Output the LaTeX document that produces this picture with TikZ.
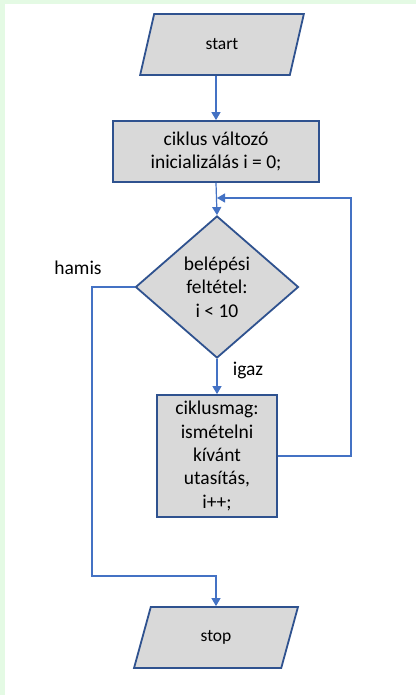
\documentclass[tikz,border=0pt]{standalone}
\usepackage{fontspec}
\setmainfont{Carlito}
\usetikzlibrary{shapes.geometric,arrows.meta}

\definecolor{boxfill}{HTML}{D9D9D9}
\definecolor{boxline}{HTML}{2F528F}
\definecolor{flowline}{HTML}{4472C4}
\definecolor{pagegreen}{HTML}{E4FAE4}

\tikzset{
  box/.style={draw=boxline,fill=boxfill,line width=1.8bp,inner sep=2bp,align=center,
    font=\fontsize{19.5bp}{23.3bp}\selectfont},
  iobox/.style={box,shape=trapezium,trapezium left angle=76,trapezium right angle=104,
    trapezium stretches=true,minimum width=164bp,minimum height=61bp,
    font=\fontsize{17.5bp}{21bp}\selectfont},
  decision/.style={box,shape=diamond,inner sep=0pt,minimum width=163bp,minimum height=142bp},
  flow/.style={draw=flowline,line width=1.2bp,-{Triangle[width=9bp,length=8bp]}},
  lbl/.style={font=\fontsize{19.5bp}{23.3bp}\selectfont}
}

\begin{document}
\begin{tikzpicture}[x=1bp,y=-1bp]
  \fill[pagegreen] (0,0) rectangle (416,695);
  \fill[white] (5,4) rectangle (416,695);

  \node[iobox] (start) at (222,44.5) {start};
  \node[box,minimum width=206bp,minimum height=61bp] (init) at (216,151.5) {ciklus változó\\inicializálás i = 0;};
  \node[decision] (cond) at (217,287) {belépési\\feltétel:\\i < 10};
  \node[box,minimum width=120bp,minimum height=122bp] (body) at (217,456) {ciklusmag:\\ismételni\\kívánt\\utasítás,\\i++;};
  \node[iobox] (stop) at (216,637.5) {stop};

  \node[lbl] (igaz) at (248,370) {igaz};
  \node[lbl] (hamis) at (78,268) {hamis};

  \coordinate (loopR) at (351,198);
  \coordinate (merge) at (217,198);
  \coordinate (hamisA) at (92,576);

  \draw[flow] (start.south -| init.north) -- (init.north);
  \draw[flow] (init.south) -- (cond.north);
  \draw[flow] (cond.south) -- (body.north);
  \draw[flow] (body.east) -| (loopR) -- (merge);
  \draw[flow] (cond.west) -| (hamisA) -| (stop.north);
\end{tikzpicture}
\end{document}
